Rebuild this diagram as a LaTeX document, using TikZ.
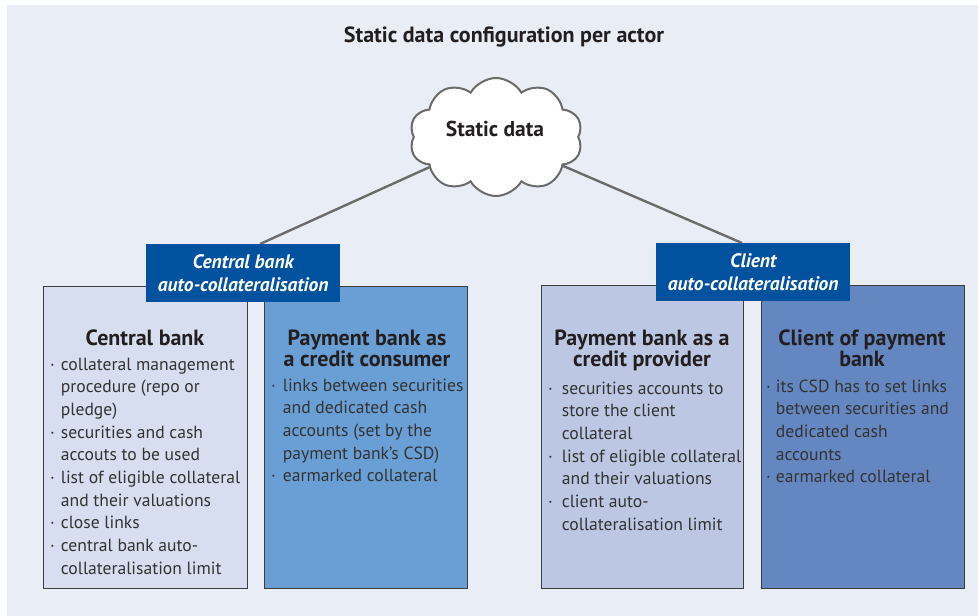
\documentclass[tikz,border=0pt]{standalone}
\usepackage{fontspec}
\setmainfont{PT Sans}
\usetikzlibrary{shapes.symbols}
\definecolor{bgc}{HTML}{E9EDF6}
\definecolor{cbfill}{HTML}{D7DEEF}
\definecolor{consfill}{HTML}{6A9FD5}
\definecolor{provfill}{HTML}{BCC8E3}
\definecolor{clifill}{HTML}{6587C1}
\definecolor{lblfill}{HTML}{00519E}
\definecolor{txt}{HTML}{231F20}
\definecolor{bodyc}{HTML}{333333}
\definecolor{linec}{HTML}{6B6B6B}
\definecolor{borderc}{HTML}{3D3D3D}
\pgfdeclarelayer{bgzero}
\pgfdeclarelayer{bgone}
\pgfsetlayers{bgzero,bgone,main}
\newcommand{\bodyfont}{\fontsize{17.6}{22.7}\selectfont}
\newcommand{\headfont}{\fontsize{22}{21}\selectfont\bfseries}
\newcommand{\lblfont}{\fontsize{19.5}{23}\selectfont\bfseries\itshape}
\tikzset{
  actorbox/.style={draw=borderc, line width=1.4pt, anchor=north west, inner sep=0pt},
  lblbox/.style={fill=lblfill, text=white, align=center, inner sep=0pt, font=\lblfont,
                 minimum width=194pt, minimum height=58pt, anchor=north west},
  headtxt/.style={text=txt, align=center, inner sep=0pt, font=\headfont, anchor=base},
  bodytxt/.style={text=bodyc, inner sep=0pt, font=\bodyfont, anchor=base west},
  conn/.style={draw=linec, line width=2.4pt},
}
\begin{document}
\begin{tikzpicture}[x=1pt,y=-1pt]
\useasboundingbox (0,0) rectangle (978,616);
\begin{pgfonlayer}{bgzero}
\fill[bgc] (7,5) rectangle (978,616);
\end{pgfonlayer}

\node[text=txt, inner sep=0pt, anchor=base, font=\fontsize{22}{24}\selectfont\bfseries] (title) at (504,42) {Static data configuration per actor};

% cloud
\node[cloud, cloud puffs=10, cloud puff arc=120, aspect=1.5, draw=linec, line width=2pt, fill=white,
      minimum width=173pt, minimum height=118pt, inner sep=0pt] (cloud) at (496,137) {};
\node[text=txt, inner sep=0pt, font=\fontsize{21.5}{23}\selectfont\bfseries] (cloudtxt) at (495,129) {Static data};

% actor boxes
\node[actorbox, fill=cbfill, minimum width=204pt, minimum height=302pt] (cb) at (43,286) {};
\node[actorbox, fill=consfill, minimum width=203pt, minimum height=302pt] (cons) at (264,286) {};
\node[actorbox, fill=provfill, minimum width=202pt, minimum height=303pt] (prov) at (541,285) {};
\node[actorbox, fill=clifill, minimum width=203pt, minimum height=303pt] (cli) at (761,285) {};

% label boxes
\node[lblbox] (lblcb) at (146,244) {Central bank\\auto-collateralisation};
\node[lblbox] (lblcli) at (656,243) {Client\\auto-collateralisation};

% connectors
\coordinate (endcb) at (260,244);
\coordinate (endcli) at (742,243);
\begin{pgfonlayer}{bgone}
\draw[conn] (cloud.center) -- (endcb);
\draw[conn] (cloud.center) -- (endcli);
\end{pgfonlayer}

% headings (base = last line)
\node[headtxt] (hcb) at (145,345) {Central bank};
\node[headtxt] (hcons) at (367,366) {Payment bank as\\a credit consumer};
\node[headtxt] (hprov) at (642,366) {Payment bank as a\\credit provider};
\node[headtxt] (hcli) at (862,366) {Client of payment\\bank};

% bodies
\node[bodytxt] (bcb) at (50,370) {\begin{tabular}[t]{@{}l@{\hspace{6pt}}l@{}}
·&collateral management\\
 &procedure (repo or\\
 &pledge)\\
·&securities and cash\\
 &accouts to be used\\
·&list of eligible collateral\\
 &and their valuations\\
·&close links\\
·&central bank auto-\\
 &collateralisation limit
\end{tabular}};
\node[bodytxt] (bcons) at (271,391) {\begin{tabular}[t]{@{}l@{\hspace{7pt}}l@{}}
·&links between securities\\
 &and dedicated cash\\
 &accounts (set by the\\
 &payment bank’s CSD)\\
·&earmarked collateral
\end{tabular}};
\node[bodytxt] (bprov) at (548,394) {\begin{tabular}[t]{@{}l@{\hspace{9pt}}l@{}}
·&securities accounts to\\
 &store the client\\
 &collateral\\
·&list of eligible collateral\\
 &and their valuations\\
·&client auto-\\
 &collateralisation limit
\end{tabular}};
\node[bodytxt] (bcli) at (766,392) {\begin{tabular}[t]{@{}l@{\hspace{5pt}}l@{}}
·&its CSD has to set links\\
 &between securities and\\
 &dedicated cash\\
 &accounts\\
·&earmarked collateral
\end{tabular}};
\end{tikzpicture}
\end{document}
